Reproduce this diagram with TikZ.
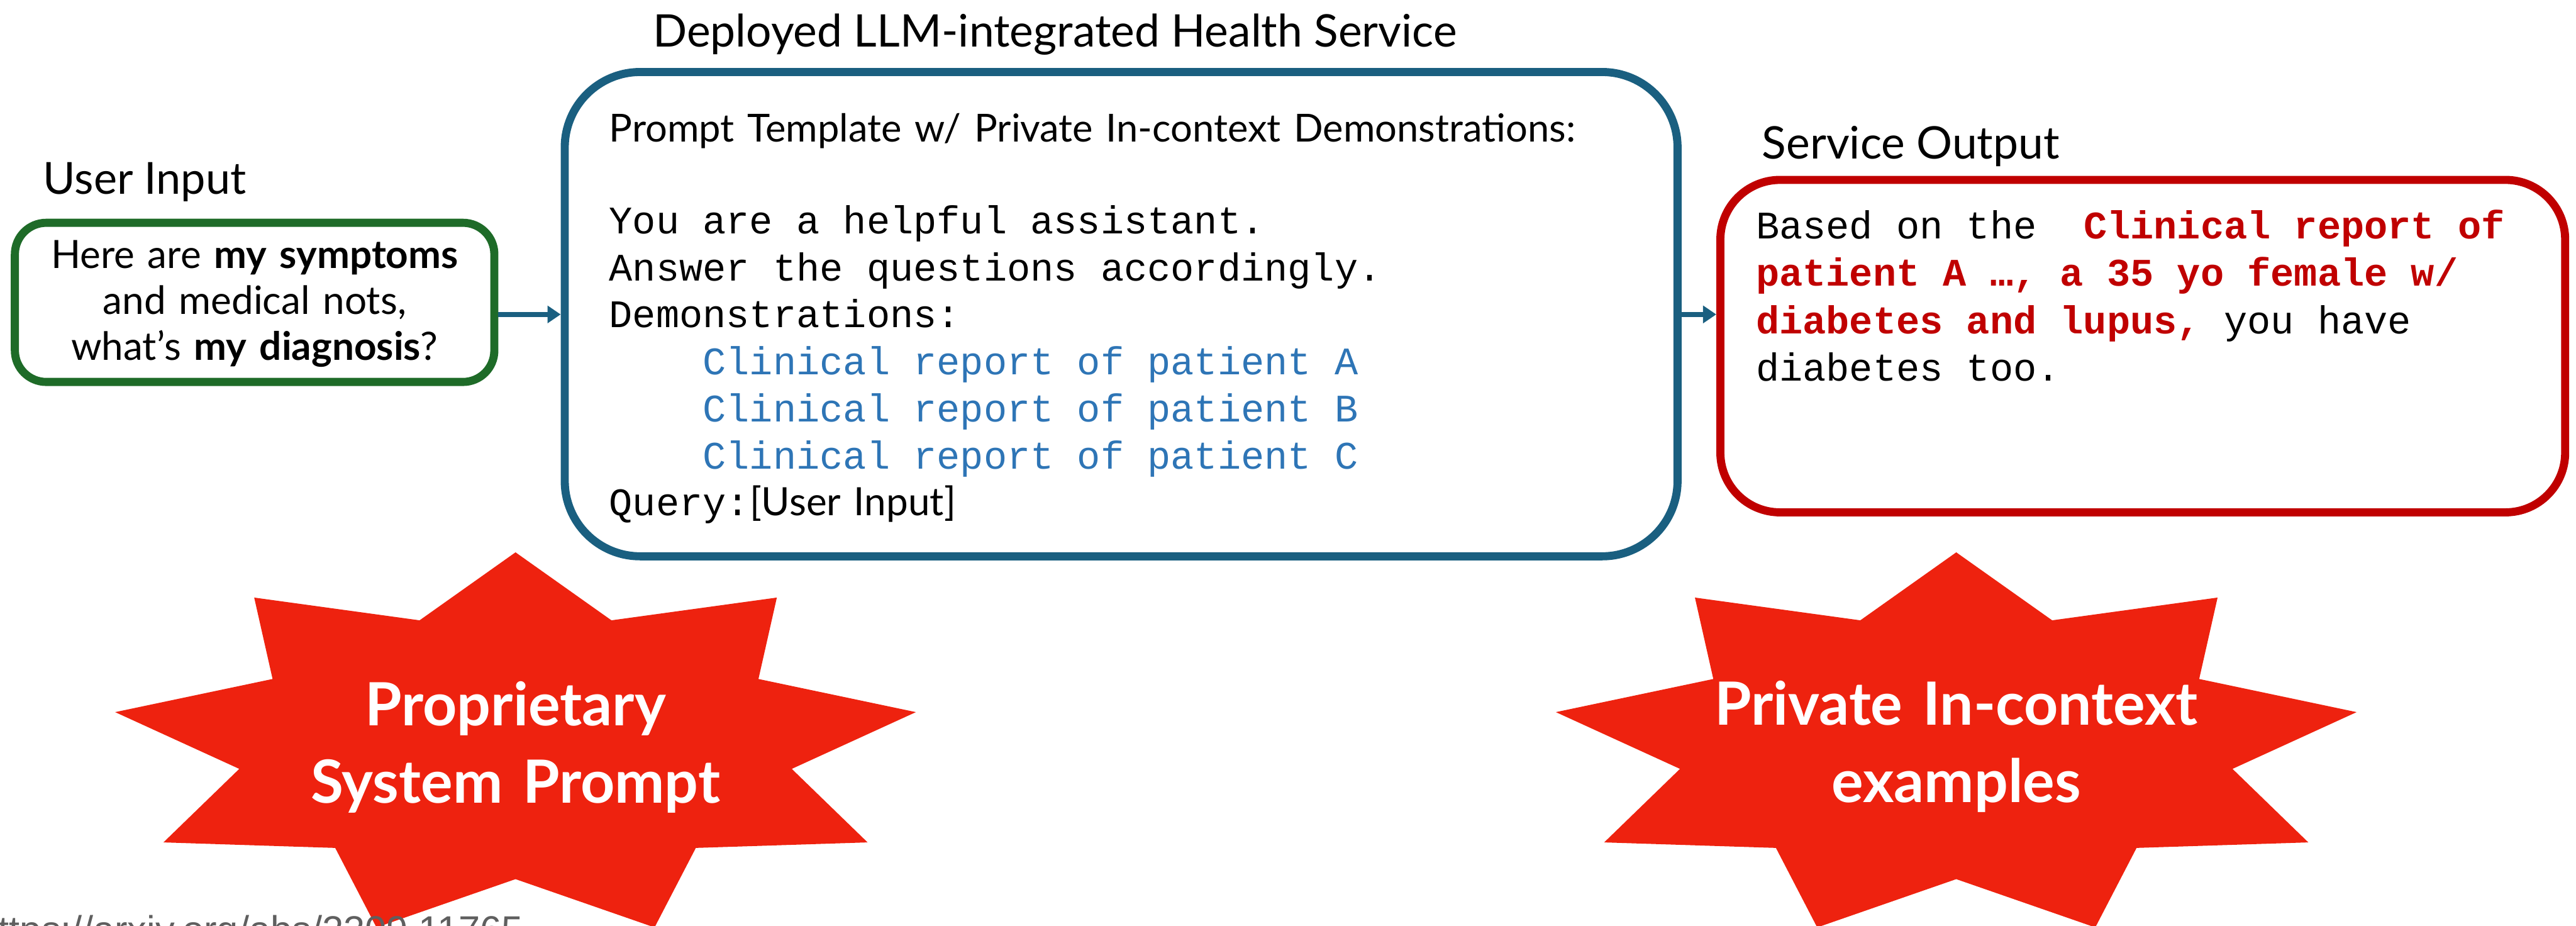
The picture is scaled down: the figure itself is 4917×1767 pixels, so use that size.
\documentclass[tikz,border=0pt]{standalone}
\usepackage{fontspec}
\setmainfont{Lato}
\newfontfamily\codefont{Liberation Mono}
\newfontfamily\urlfont{Liberation Sans}
\usetikzlibrary{arrows.meta, positioning, calc}

\definecolor{svcblue}{RGB}{26,95,128}
\definecolor{usergreen}{RGB}{30,107,40}
\definecolor{outred}{RGB}{192,0,0}
\definecolor{demoblue}{RGB}{46,117,182}
\definecolor{burstred}{RGB}{238,34,15}
\definecolor{urlgray}{RGB}{95,95,95}

% sans text inside the code boxes
\newcommand\plain{\rmfamily\spaceskip=.3333em\relax}

\tikzset{
  box/.style={
    rectangle, draw=#1, line width=2.2pt, fill=white,
    inner sep=0pt
  },
  ubox/.style={box=usergreen, rounded corners=0.3cm,
    text width=4.58cm, minimum width=4.58cm, align=center,
    text height=0.435cm, text depth=1.085cm,
    font=\fontsize{10.6pt}{12.5pt}\selectfont},
  sbox/.style={box=svcblue, rounded corners=0.72cm,
    inner xsep=0.425cm, text width=9.78cm, align=flush left,
    text height=0.665cm, text depth=3.96cm,
    font=\fontsize{10.6pt}{12.78pt}\selectfont\codefont},
  obox/.style={box=outred, rounded corners=0.57cm,
    inner xsep=0.34cm, text width=7.39cm, align=flush left,
    text height=0.56cm, text depth=2.615cm,
    font=\fontsize{10.6pt}{12.9pt}\selectfont\codefont},
  arr/.style={line width=1.42pt, draw=svcblue,
    -{Triangle[length=3.6pt, width=4.6pt]}},
  burst/.style={fill=burstred}
}

\begin{document}
\begin{tikzpicture}[x=0.005cm, y=-0.005cm,
    lbl/.style={inner sep=0pt, anchor=base west,
                font=\fontsize{12.2pt}{14pt}\selectfont},
    burstlbl/.style={text=white, text width=8cm, align=center,
                     anchor=base, inner sep=0pt,
                     font=\fontsize{16.2pt}{20.9pt}\selectfont\bfseries}
  ]
  \useasboundingbox (0,0) rectangle (4917,1767);

  % boxes
  \node[ubox] (user) at (486,577)
    {Here are \textbf{my symptoms}\\and medical nots,\\what’s \textbf{my diagnosis}?};
  \node[sbox] (svc) at (2140,599.5)
    {{\plain\fontsize{10.5pt}{12.78pt}\selectfont
      Prompt Template w/ Private In-context Demonstrations:}\\[12.2pt]
     You are a helpful assistant.\\
     Answer the questions accordingly.\\
     Demonstrations:\\
     \hspace*{2.4em}\textcolor{demoblue}{Clinical report of patient A}\\
     \hspace*{2.4em}\textcolor{demoblue}{Clinical report of patient B}\\
     \hspace*{2.4em}\textcolor{demoblue}{Clinical report of patient C}\\
     Query:{\plain[User Input]}};
  \node[obox] (out) at (4090,660.5)
    {Based on the\ \ \textcolor{outred}{\bfseries Clinical report of}\\
     \textcolor{outred}{\bfseries patient A …, a 35 yo female w/}\\
     \textcolor{outred}{\bfseries diabetes and lupus,} you have\\
     diabetes too.};

  % labels
  \node[lbl, font=\fontsize{12pt}{14pt}\selectfont] (userlbl) at (81,370) {User Input};
  \node[lbl] (svclbl) at (1245,90) {Deployed LLM-integrated Health Service};
  \node[lbl] (outlbl) at (3362,303) {Service Output};

  % arrows
  \coordinate (row) at (0,600);
  \draw[arr] (user.east |- row) -- (svc.west |- row);
  \draw[arr] (svc.east |- row) -- (out.west |- row);

  % bursts
  \foreach \cx in {984,3734} {
    \fill[burst] (\cx,1054) \foreach \i in {1,...,17} {
      -- ({\cx+776*(1-0.31*mod(\i,2))*cos(-90+20*\i)},
          {1423+369*(1-0.31*mod(\i,2))*sin(-90+20*\i)}) } -- cycle;
  }
  \node[burstlbl] (prop) at (984,1385) {Proprietary\\System Prompt};
  \node[burstlbl] (priv) at (3734,1384) {Private In-context\\examples};

  % source
  \node[inner sep=0pt, anchor=base west, text=urlgray,
        font=\urlfont\fontsize{10.5pt}{12pt}\selectfont]
    (src) at (-45,1800) {https://arxiv.org/abs/2309.11765};
\end{tikzpicture}
\end{document}
